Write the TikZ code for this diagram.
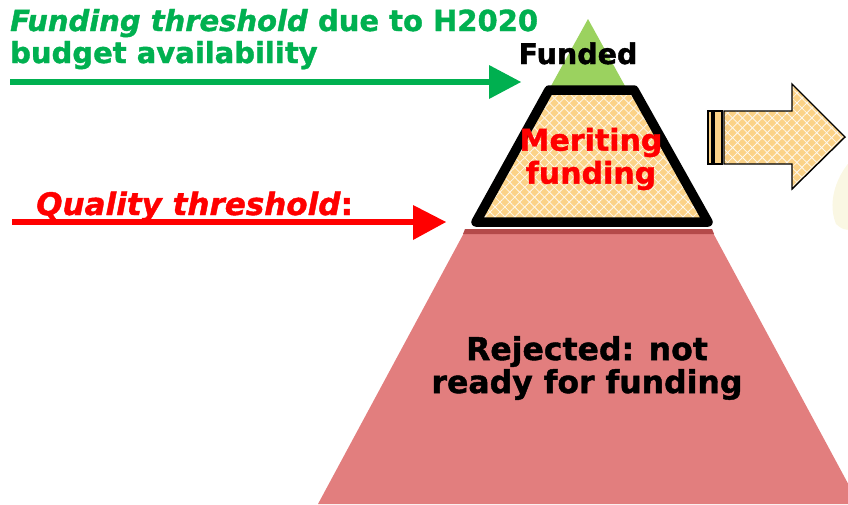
\documentclass[tikz,border=0pt]{standalone}
\usepackage{fontspec}
\setmainfont{DejaVu Sans}[BoldFeatures={FakeBold=1.3},BoldItalicFeatures={FakeBold=1.3}]
\usetikzlibrary{patterns.meta}
\definecolor{ecgreen}{RGB}{0,176,80}
\definecolor{lgreen}{RGB}{155,210,95}
\definecolor{orfill}{RGB}{251,210,135}
\definecolor{rejred}{RGB}{226,126,126}
\definecolor{darkred}{RGB}{150,40,40}
\definecolor{glow}{RGB}{248,244,215}
\tikzset{
  lbl/.style={inner sep=0pt},
  lattice/.style={pattern={Lines[angle=45,distance=7pt,line width=0.8pt]}, pattern color=white!85!orfill},
  lattice2/.style={pattern={Lines[angle=-45,distance=7pt,line width=0.8pt]}, pattern color=white!85!orfill},
  thr/.style={line width=6.5pt},
}
\begin{document}
\begin{tikzpicture}[x=1pt,y=-1pt]
\useasboundingbox (0,0) rectangle (848,504);
\begin{scope}
\clip (0,0) rectangle (848,504);
% faint glow
\fill[glow, opacity=0.7] (862,150) .. controls (838,168) and (826,200) .. (836,224) .. controls (846,234) and (856,230) .. (862,220) -- cycle;
% rejected trapezoid
\fill[rejred] (465,231) -- (712,231) -- (859,504) -- (318,504) -- cycle;
\fill[darkred!60!rejred] (465,229) -- (712,229) -- (714,234) -- (463,234) -- cycle;
\end{scope}
% funded triangle
\fill[lgreen] (588,19) -- (630,95) -- (546,95) -- cycle;
\node[lbl, anchor=base, font=\fontsize{28.5}{34}\selectfont\bfseries] (funded) at (578,64) {Funded};
% meriting trapezoid
\coordinate (m1) at (549,90);
\coordinate (m2) at (634,90);
\coordinate (m3) at (708,222);
\coordinate (m4) at (476,222);
\fill[orfill] (m1) -- (m2) -- (m3) -- (m4) -- cycle;
\fill[lattice] (m1) -- (m2) -- (m3) -- (m4) -- cycle;
\fill[lattice2] (m1) -- (m2) -- (m3) -- (m4) -- cycle;
\draw[line width=9.5pt, line join=round] (m1) -- (m2) -- (m3) -- (m4) -- cycle;
\node[lbl, text=red, align=center, font=\fontsize{30}{33}\selectfont\bfseries] (merit) at (591,159) {Meriting\\funding};
% block arrow
\begin{scope}[line width=1.4pt]
\fill[orfill] (708,111) rectangle (712,164);
\fill[orfill] (714,111) rectangle (722,164);
\fill[orfill] (724,111) -- (792,111) -- (792,84) -- (845,137) -- (792,189) -- (792,164) -- (724,164) -- cycle;
\fill[lattice] (724,111) -- (792,111) -- (792,84) -- (845,137) -- (792,189) -- (792,164) -- (724,164) -- cycle;
\fill[lattice2] (724,111) -- (792,111) -- (792,84) -- (845,137) -- (792,189) -- (792,164) -- (724,164) -- cycle;
\draw (708,111) rectangle (712,164);
\draw (714,111) rectangle (722,164);
\draw[line join=miter] (724,111) -- (792,111) -- (792,84) -- (845,137) -- (792,189) -- (792,164) -- (724,164) -- cycle;
\end{scope}
% rejected text
\node[lbl, align=center, font=\fontsize{31.5}{33}\selectfont\bfseries] (rej) at (587,368) {Rejected: not\\ready for funding};
% funding threshold
\node[lbl, text=ecgreen, anchor=base west, font=\fontsize{29}{32}\selectfont\bfseries] (ft) at (10,31) {\textit{Funding threshold} due to H2020};
\node[lbl, text=ecgreen, anchor=base west, font=\fontsize{29}{32}\selectfont\bfseries] (ft2) at (10,63) {budget availability};
\coordinate (gs) at (10,82);
\coordinate (ge) at (521,82);
\draw[thr, ecgreen] (gs) -- (491,82);
\fill[ecgreen] (489,65) -- (ge) -- (489,99) -- cycle;
% quality threshold
\node[lbl, text=red, anchor=base west, font=\fontsize{31}{34}\selectfont\bfseries] (qt) at (36,215) {\textit{Quality threshold}:};
\coordinate (rs) at (12,222);
\coordinate (re) at (446,222);
\draw[thr, red] (rs) -- (415,222);
\fill[red] (413,205) -- (re) -- (413,240) -- cycle;
\end{tikzpicture}
\end{document}
